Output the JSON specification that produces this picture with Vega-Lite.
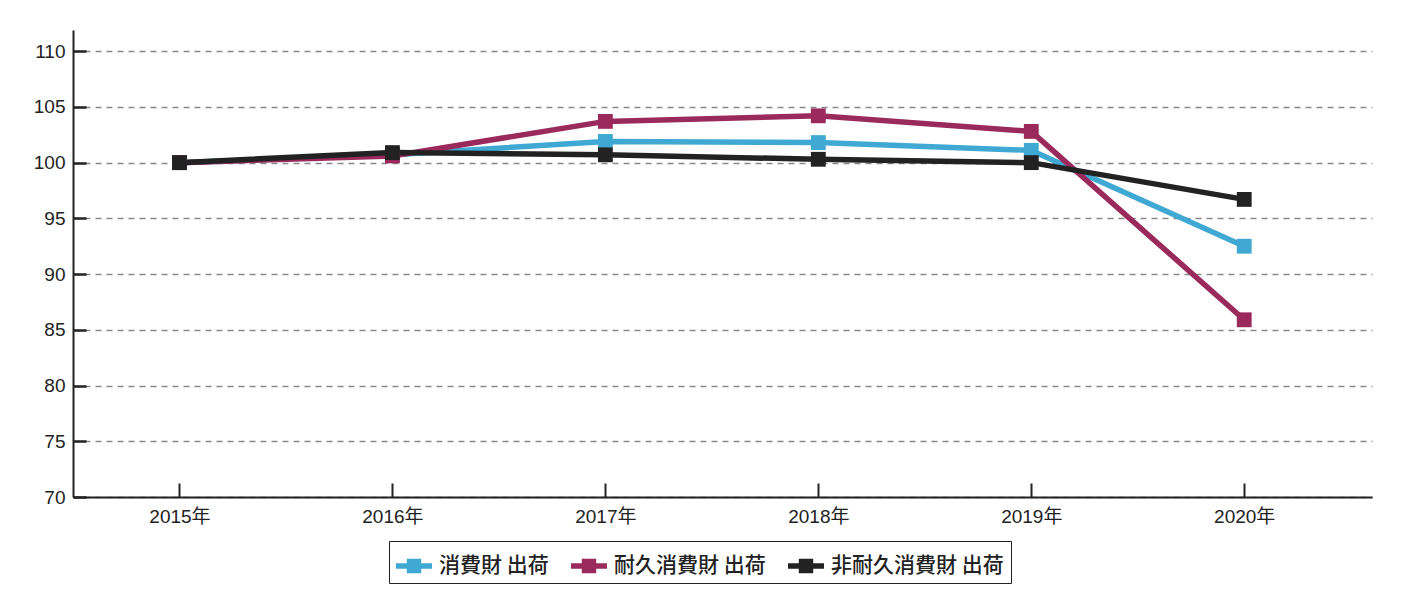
{
  "$schema": "https://vega.github.io/schema/vega-lite/v6.json",
  "width": 1299,
  "height": 467,
  "autosize": {"type": "none"},
  "padding": {"left": 73, "top": 30, "right": 29, "bottom": 106},
  "background": "white",
  "data": {
    "values": [
      {"year": 2015, "series": "消費財 出荷", "value": 100.0},
      {"year": 2016, "series": "消費財 出荷", "value": 100.7},
      {"year": 2017, "series": "消費財 出荷", "value": 101.9},
      {"year": 2018, "series": "消費財 出荷", "value": 101.8},
      {"year": 2019, "series": "消費財 出荷", "value": 101.1},
      {"year": 2020, "series": "消費財 出荷", "value": 92.5},
      {"year": 2015, "series": "耐久消費財 出荷", "value": 100.0},
      {"year": 2016, "series": "耐久消費財 出荷", "value": 100.6},
      {"year": 2017, "series": "耐久消費財 出荷", "value": 103.7},
      {"year": 2018, "series": "耐久消費財 出荷", "value": 104.2},
      {"year": 2019, "series": "耐久消費財 出荷", "value": 102.8},
      {"year": 2020, "series": "耐久消費財 出荷", "value": 85.9},
      {"year": 2015, "series": "非耐久消費財 出荷", "value": 100.0},
      {"year": 2016, "series": "非耐久消費財 出荷", "value": 100.9},
      {"year": 2017, "series": "非耐久消費財 出荷", "value": 100.7},
      {"year": 2018, "series": "非耐久消費財 出荷", "value": 100.3},
      {"year": 2019, "series": "非耐久消費財 出荷", "value": 100.0},
      {"year": 2020, "series": "非耐久消費財 出荷", "value": 96.7}
    ]
  },
  "encoding": {
    "x": {
      "field": "year",
      "type": "quantitative",
      "scale": {"domain": [2014.5, 2020.6], "nice": false, "zero": false},
      "axis": {
        "title": null,
        "values": [2015, 2016, 2017, 2018, 2019, 2020],
        "labelExpr": "datum.value + '年'",
        "grid": false,
        "tickSize": -14,
        "labelPadding": 24,
        "domainColor": "#222",
        "domainWidth": 2,
        "tickColor": "#222",
        "tickWidth": 2,
        "labelFontSize": 19,
        "labelColor": "#222",
        "labelFont": "Liberation Sans, Noto Sans CJK JP"
      }
    },
    "y": {
      "field": "value",
      "type": "quantitative",
      "scale": {"domain": [70, 111.9], "nice": false, "zero": false},
      "axis": {
        "title": null,
        "values": [70, 75, 80, 85, 90, 95, 100, 105, 110],
        "grid": true,
        "gridDash": [6, 5],
        "gridColor": "#888",
        "gridWidth": 1.3,
        "tickSize": -13,
        "labelPadding": 21,
        "domainColor": "#222",
        "domainWidth": 2,
        "tickColor": "#222",
        "tickWidth": 2.5,
        "labelFontSize": 19,
        "labelColor": "#222",
        "labelFont": "Liberation Sans"
      }
    },
    "color": {
      "field": "series",
      "type": "nominal",
      "scale": {
        "domain": ["消費財 出荷", "耐久消費財 出荷", "非耐久消費財 出荷"],
        "range": ["#3fa9d4", "#9b2a5c", "#222222"]
      },
      "legend": {
        "title": null,
        "orient": "none",
        "legendX": 316,
        "legendY": 511,
        "direction": "horizontal",
        "strokeColor": "#222",
        "fillColor": "white",
        "padding": 7,
        "symbolType": "M-1,-0.15H1V0.15H-1Z M-0.4,-0.4H0.4V0.4H-0.4Z",
        "symbolSize": 1296,
        "symbolStrokeWidth": 0,
        "symbolOpacity": 1,
        "labelFontSize": 21,
        "labelFontWeight": 500,
        "labelFont": "Noto Sans CJK JP",
        "labelColor": "#222",
        "labelOffset": 7,
        "labelLimit": 400,
        "columnPadding": 22
      }
    },
    "order": {"field": "series"}
  },
  "layer": [
    {"mark": {"type": "line", "strokeWidth": 5.5}},
    {"mark": {"type": "point", "shape": "square", "filled": true, "size": 220, "opacity": 1}}
  ],
  "config": {
    "view": {"stroke": null}
  }
}
